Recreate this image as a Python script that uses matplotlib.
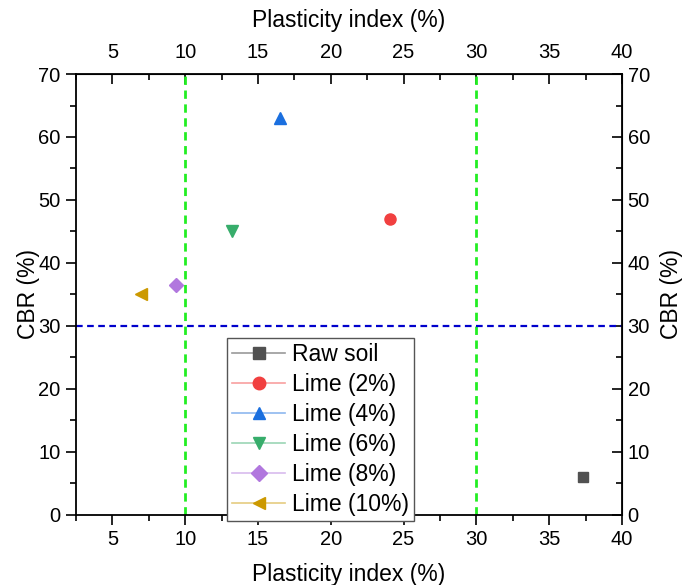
import matplotlib
matplotlib.use("Agg")
import matplotlib.pyplot as plt
from matplotlib.lines import Line2D
from matplotlib.ticker import MultipleLocator

plt.rcParams['font.family'] = ['Liberation Sans', 'DejaVu Sans']

labels = ["Raw soil", "Lime (2%)", "Lime (4%)", "Lime (6%)", "Lime (8%)", "Lime (10%)"]
pi_values = [37.3, 24.1, 16.5, 13.2, 9.4, 7.0]
cbr_values = [6.0, 47.0, 63.0, 45.0, 36.5, 35.0]
colors = ["#515151", "#F14040", "#1A6FDF", "#37AD6B", "#B177DE", "#CC9900"]
light = ["#9a9a9a", "#F8A0A0", "#8DB7EF", "#9BD6B5", "#D8BBEE", "#E5CC80"]
markers = ["s", "o", "^", "v", "D", "<"]
msizes = [7, 8, 8, 8, 7, 8]
vlines_x = [10, 30]
hline_y = [30]
xticks = [5, 10, 15, 20, 25, 30, 35, 40]

TICK_FS = 14.5
LABEL_FS = 16.5

fig = plt.figure(figsize=(6.82, 5.85), dpi=100)
ax = fig.add_axes([0.1114, 0.1197, 0.8006, 0.7538])

for xv in vlines_x:
    ax.axvline(xv, color="#22EE22", ls=(0, (3, 2)), lw=2, zorder=1)
for yv in hline_y:
    ax.axhline(yv, color="#0000CC", ls=(0, (3, 2)), lw=1.6, zorder=1)

leg_handles = []
for x, y, c, lc, m, s, lab in zip(pi_values, cbr_values, colors, light, markers, msizes, labels):
    ax.plot([x], [y], ls="none", marker=m, color=c, markersize=s, zorder=3)
    leg_handles.append(Line2D([], [], color=lc, marker=m, markersize=s + 1,
                              markerfacecolor=c, markeredgecolor=c, lw=1.2,
                              label=lab))

ax.set_xlim(2.5, 40)
ax.set_ylim(0, 70)
ax.set_xticks(xticks)
ax.xaxis.set_minor_locator(MultipleLocator(2.5))
ax.yaxis.set_major_locator(MultipleLocator(10))
ax.yaxis.set_minor_locator(MultipleLocator(5))

def style(a, direction, pad=4):
    a.tick_params(which="both", direction=direction, labelsize=TICK_FS, width=1.2)
    a.tick_params(which="major", length=7, pad=pad)
    a.tick_params(which="minor", length=4)

style(ax, "out")
for sp in ax.spines.values():
    sp.set_linewidth(1.3)

ax.set_xlabel("Plasticity index (%)", fontsize=LABEL_FS, labelpad=10)
ax.set_ylabel("CBR (%)", fontsize=LABEL_FS, labelpad=-1)

top = ax.secondary_xaxis("top")
top.set_xticks(xticks)
top.xaxis.set_minor_locator(MultipleLocator(2.5))
style(top, "in", pad=9)
top.set_xlabel("Plasticity index (%)", fontsize=LABEL_FS, labelpad=11)

right = ax.secondary_yaxis("right")
right.yaxis.set_major_locator(MultipleLocator(10))
right.yaxis.set_minor_locator(MultipleLocator(5))
style(right, "in")
right.set_ylabel("CBR (%)", fontsize=LABEL_FS, labelpad=7)

leg = ax.legend(handles=leg_handles, loc="upper left", bbox_to_anchor=(0.277, 0.401),
                borderaxespad=0, fontsize=16.5, frameon=True, fancybox=False,
                framealpha=1.0, edgecolor="#555555", handlelength=2.3,
                handletextpad=0.3, labelspacing=0.3, borderpad=0.22)
leg.get_frame().set_linewidth(1.0)
leg.set_zorder(5)

fig.savefig("out.png", dpi=100)
